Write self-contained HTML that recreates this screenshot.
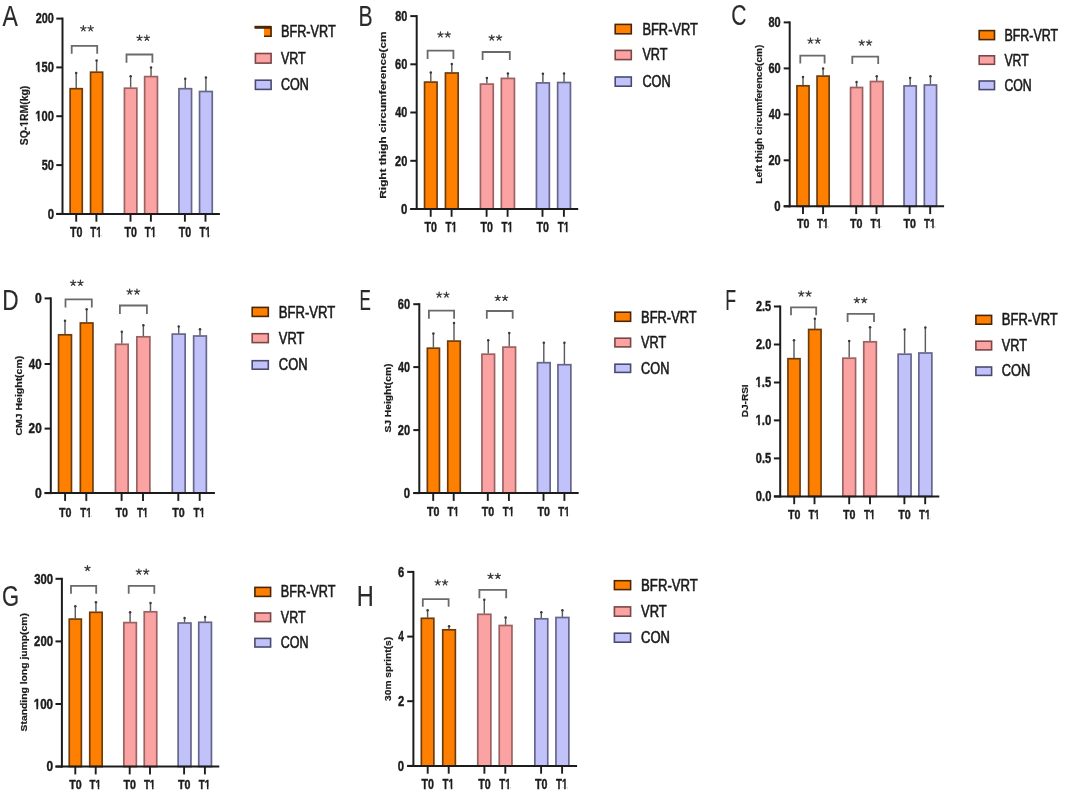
<!DOCTYPE html>
<html><head><meta charset="utf-8"><style>
html,body{margin:0;padding:0;background:#fff;width:1065px;height:799px;overflow:hidden}
svg{display:block;font-family:"Liberation Sans", sans-serif;will-change:transform;filter:blur(0.35px)}
</style></head><body>
<svg width="1065" height="799" viewBox="0 0 1065 799">
<defs><mask id="m0" maskUnits="userSpaceOnUse" x="-20" y="-27.89" width="63.26" height="55.77"><rect x="-20" y="-27.89" width="63.26" height="55.77" fill="#fff"/><rect x="-0.70" y="-2.09" width="3.86" height="3.49" fill="#000"/><rect x="5.37" y="-2.09" width="2.65" height="3.49" fill="#000"/></mask><mask id="m1" maskUnits="userSpaceOnUse" x="-20" y="-27.89" width="63.26" height="55.77"><rect x="-20" y="-27.89" width="63.26" height="55.77" fill="#fff"/><rect x="-0.70" y="-2.09" width="3.86" height="3.49" fill="#000"/><rect x="5.37" y="-2.09" width="2.65" height="3.49" fill="#000"/></mask><mask id="m2" maskUnits="userSpaceOnUse" x="-20" y="-27.89" width="56.27" height="55.77"><rect x="-20" y="-27.89" width="56.27" height="55.77" fill="#fff"/><rect x="7.82" y="-2.09" width="3.86" height="3.49" fill="#000"/><rect x="13.89" y="-2.09" width="2.65" height="3.49" fill="#000"/></mask><mask id="m3" maskUnits="userSpaceOnUse" x="-20" y="-21.16" width="100.54" height="42.32"><rect x="-20" y="-21.16" width="100.54" height="42.32" fill="#fff"/><rect x="18.28" y="-1.59" width="2.93" height="2.64" fill="#000"/><rect x="22.88" y="-1.59" width="2.01" height="2.64" fill="#000"/></mask><mask id="m4" maskUnits="userSpaceOnUse" x="-20" y="-25.63" width="54.96" height="51.27"><rect x="-20" y="-25.63" width="54.96" height="51.27" fill="#fff"/><rect x="7.19" y="-1.92" width="3.55" height="3.20" fill="#000"/><rect x="12.76" y="-1.92" width="2.44" height="3.20" fill="#000"/></mask><mask id="m5" maskUnits="userSpaceOnUse" x="-20" y="-27.32" width="55.94" height="54.65"><rect x="-20" y="-27.32" width="55.94" height="54.65" fill="#fff"/><rect x="7.66" y="-2.05" width="3.78" height="3.42" fill="#000"/><rect x="13.61" y="-2.05" width="2.60" height="3.42" fill="#000"/></mask><mask id="m6" maskUnits="userSpaceOnUse" x="-20" y="-25.92" width="55.12" height="51.83"><rect x="-20" y="-25.92" width="55.12" height="51.83" fill="#fff"/><rect x="7.27" y="-1.94" width="3.59" height="3.24" fill="#000"/><rect x="12.90" y="-1.94" width="2.46" height="3.24" fill="#000"/></mask><mask id="m7" maskUnits="userSpaceOnUse" x="-20" y="-27.89" width="59.38" height="55.77"><rect x="-20" y="-27.89" width="59.38" height="55.77" fill="#fff"/><rect x="-0.70" y="-2.09" width="3.86" height="3.49" fill="#000"/><rect x="5.37" y="-2.09" width="2.65" height="3.49" fill="#000"/></mask><mask id="m8" maskUnits="userSpaceOnUse" x="-20" y="-27.89" width="59.38" height="55.77"><rect x="-20" y="-27.89" width="59.38" height="55.77" fill="#fff"/><rect x="-0.70" y="-2.09" width="3.86" height="3.49" fill="#000"/><rect x="5.37" y="-2.09" width="2.65" height="3.49" fill="#000"/></mask><mask id="m9" maskUnits="userSpaceOnUse" x="-20" y="-26.76" width="55.61" height="53.52"><rect x="-20" y="-26.76" width="55.61" height="53.52" fill="#fff"/><rect x="7.50" y="-2.01" width="3.71" height="3.35" fill="#000"/><rect x="13.32" y="-2.01" width="2.54" height="3.35" fill="#000"/></mask></defs>
<rect width="1065" height="799" fill="#fff"/>
<g>
<text transform="translate(2.53,25.75) scale(0.7945,1)" font-size="28.986" font-weight="normal" fill="#2a2a2a" stroke="#2a2a2a" stroke-width="0.15">A</text>
<line x1="76.2" y1="88.1" x2="76.2" y2="73" stroke="#5c5c5c" stroke-width="1.45"/>
<circle cx="76.2" cy="73" r="1.25" fill="#3a3a3a"/>
<rect x="70.15" y="88.7" width="12.1" height="125.2" fill="#FF8000" stroke="#6e3c0c" stroke-width="1.7"/>
<line x1="96.6" y1="71.6" x2="96.6" y2="60.6" stroke="#5c5c5c" stroke-width="1.45"/>
<circle cx="96.6" cy="60.6" r="1.25" fill="#3a3a3a"/>
<rect x="90.55" y="72.2" width="12.1" height="141.7" fill="#FF8000" stroke="#6e3c0c" stroke-width="1.7"/>
<line x1="130.65" y1="87.6" x2="130.65" y2="76.2" stroke="#5c5c5c" stroke-width="1.45"/>
<circle cx="130.65" cy="76.2" r="1.25" fill="#3a3a3a"/>
<rect x="124.45" y="88.2" width="12.4" height="125.7" fill="#FBA3A3" stroke="#9a6262" stroke-width="1.7"/>
<line x1="151.05" y1="76" x2="151.05" y2="67.4" stroke="#5c5c5c" stroke-width="1.45"/>
<circle cx="151.05" cy="67.4" r="1.25" fill="#3a3a3a"/>
<rect x="144.65" y="76.6" width="12.8" height="137.3" fill="#FBA3A3" stroke="#9a6262" stroke-width="1.7"/>
<line x1="185.25" y1="88.1" x2="185.25" y2="78.8" stroke="#5c5c5c" stroke-width="1.45"/>
<circle cx="185.25" cy="78.8" r="1.25" fill="#3a3a3a"/>
<rect x="178.95" y="88.7" width="12.6" height="125.2" fill="#C2C2FB" stroke="#66668a" stroke-width="1.7"/>
<line x1="205.9" y1="90.9" x2="205.9" y2="77.4" stroke="#5c5c5c" stroke-width="1.45"/>
<circle cx="205.9" cy="77.4" r="1.25" fill="#3a3a3a"/>
<rect x="199.55" y="91.5" width="12.7" height="122.4" fill="#C2C2FB" stroke="#66668a" stroke-width="1.7"/>
<line x1="62.5" y1="17.6" x2="62.5" y2="214.9" stroke="#1c1c1c" stroke-width="2"/>
<line x1="56.3" y1="213.9" x2="219.9" y2="213.9" stroke="#1c1c1c" stroke-width="2"/>
<line x1="56.3" y1="18.6" x2="62.5" y2="18.6" stroke="#1c1c1c" stroke-width="2"/>
<text transform="translate(35.72,23.46) scale(0.7848,1)" font-size="13.944" font-weight="bold" fill="#1c1c1c" stroke="#1c1c1c" stroke-width="0.4">200</text>
<line x1="56.3" y1="67.4" x2="62.5" y2="67.4" stroke="#1c1c1c" stroke-width="2"/>
<text transform="translate(35.37,72.26) scale(0.7999,1)" font-size="13.944" font-weight="bold" fill="#1c1c1c" stroke="#1c1c1c" stroke-width="0.4" mask="url(#m0)">150</text>
<line x1="56.3" y1="116.2" x2="62.5" y2="116.2" stroke="#1c1c1c" stroke-width="2"/>
<text transform="translate(35.37,121.06) scale(0.7999,1)" font-size="13.944" font-weight="bold" fill="#1c1c1c" stroke="#1c1c1c" stroke-width="0.4" mask="url(#m1)">100</text>
<line x1="56.3" y1="165.1" x2="62.5" y2="165.1" stroke="#1c1c1c" stroke-width="2"/>
<text transform="translate(41.77,169.96) scale(0.7861,1)" font-size="13.944" font-weight="bold" fill="#1c1c1c" stroke="#1c1c1c" stroke-width="0.4">50</text>
<line x1="56.3" y1="213.9" x2="62.5" y2="213.9" stroke="#1c1c1c" stroke-width="2"/>
<text transform="translate(47.65,218.76) scale(0.8153,1)" font-size="13.944" font-weight="bold" fill="#1c1c1c" stroke="#1c1c1c" stroke-width="0.4">0</text>
<line x1="76.2" y1="213.9" x2="76.2" y2="221.7" stroke="#1c1c1c" stroke-width="1.9"/>
<text transform="translate(70.09,237.26) scale(0.7654,1)" font-size="13.944" font-weight="bold" fill="#1c1c1c" stroke="#1c1c1c" stroke-width="0.4">T0</text>
<line x1="96.4" y1="213.9" x2="96.4" y2="221.7" stroke="#1c1c1c" stroke-width="1.9"/>
<text transform="translate(90.3,237.26) scale(0.6981,1)" font-size="13.944" font-weight="bold" fill="#1c1c1c" stroke="#1c1c1c" stroke-width="0.4" mask="url(#m2)">T1</text>
<line x1="130.5" y1="213.9" x2="130.5" y2="221.7" stroke="#1c1c1c" stroke-width="1.9"/>
<text transform="translate(124.39,237.26) scale(0.7654,1)" font-size="13.944" font-weight="bold" fill="#1c1c1c" stroke="#1c1c1c" stroke-width="0.4">T0</text>
<line x1="150.9" y1="213.9" x2="150.9" y2="221.7" stroke="#1c1c1c" stroke-width="1.9"/>
<text transform="translate(144.8,237.26) scale(0.6981,1)" font-size="13.944" font-weight="bold" fill="#1c1c1c" stroke="#1c1c1c" stroke-width="0.4" mask="url(#m2)">T1</text>
<line x1="184.9" y1="213.9" x2="184.9" y2="221.7" stroke="#1c1c1c" stroke-width="1.9"/>
<text transform="translate(178.79,237.26) scale(0.7654,1)" font-size="13.944" font-weight="bold" fill="#1c1c1c" stroke="#1c1c1c" stroke-width="0.4">T0</text>
<line x1="205.5" y1="213.9" x2="205.5" y2="221.7" stroke="#1c1c1c" stroke-width="1.9"/>
<text transform="translate(199.4,237.26) scale(0.6981,1)" font-size="13.944" font-weight="bold" fill="#1c1c1c" stroke="#1c1c1c" stroke-width="0.4" mask="url(#m2)">T1</text>
<polyline points="71.7,53.8 71.7,45.9 97.2,45.9 97.2,53.8" fill="none" stroke="#6a6a6a" stroke-width="1.8"/>
<polyline points="126.5,62.8 126.5,54.5 152.4,54.5 152.4,62.8" fill="none" stroke="#6a6a6a" stroke-width="1.8"/>
<path d="M83.35,28.50L83.35,25.70M83.35,28.50L86.01,27.63M83.35,28.50L85.00,30.77M83.35,28.50L81.70,30.77M83.35,28.50L80.69,27.63" stroke="#3c3c3c" stroke-width="1.25" stroke-linecap="round" fill="none"/>
<path d="M90.65,28.50L90.65,25.70M90.65,28.50L93.31,27.63M90.65,28.50L92.30,30.77M90.65,28.50L89.00,30.77M90.65,28.50L87.99,27.63" stroke="#3c3c3c" stroke-width="1.25" stroke-linecap="round" fill="none"/>
<path d="M139.55,38.00L139.55,35.20M139.55,38.00L142.21,37.13M139.55,38.00L141.20,40.27M139.55,38.00L137.90,40.27M139.55,38.00L136.89,37.13" stroke="#3c3c3c" stroke-width="1.25" stroke-linecap="round" fill="none"/>
<path d="M146.85,38.00L146.85,35.20M146.85,38.00L149.51,37.13M146.85,38.00L148.50,40.27M146.85,38.00L145.20,40.27M146.85,38.00L144.19,37.13" stroke="#3c3c3c" stroke-width="1.25" stroke-linecap="round" fill="none"/>
<text transform="translate(28.3,145.21) rotate(-90) scale(0.9846,1)" font-size="10.580" font-weight="bold" fill="#1c1c1c" stroke="#1c1c1c" stroke-width="0.2" mask="url(#m3)">SQ-1RM(kg)</text>
<rect x="264" y="26.5" width="7.8" height="10.5" fill="#FF8000"/>
<path d="M254.6,27.3H271.8M271,26V37M264,36.2H271.8" stroke="#4a2606" stroke-width="1.6" fill="none"/>
<path d="M254.6,27.3H271" stroke="#4a2606" stroke-width="3" fill="none"/>
<text transform="translate(280.93,37.45) scale(0.7834,1)" font-size="16.232" font-weight="normal" fill="#1a1a1a" stroke="#1a1a1a" stroke-width="0.6">BFR-VRT</text>
<rect x="255.4" y="53.5" width="15.7" height="9.6" fill="#FBA3A3" stroke="#7a4646" stroke-width="1.6"/>
<text transform="translate(280.92,64.15) scale(0.7716,1)" font-size="16.232" font-weight="normal" fill="#1a1a1a" stroke="#1a1a1a" stroke-width="0.6">VRT</text>
<rect x="255.4" y="80.2" width="15.7" height="9.2" fill="#C2C2FB" stroke="#4a4a70" stroke-width="1.6"/>
<text transform="translate(280.94,90.49) scale(0.7954,1)" font-size="15.775" font-weight="normal" fill="#1a1a1a" stroke="#1a1a1a" stroke-width="0.6">CON</text>
</g>
<g>
<text transform="translate(358.46,25.75) scale(0.7251,1)" font-size="29.130" font-weight="normal" fill="#2a2a2a" stroke="#2a2a2a" stroke-width="0.15">B</text>
<line x1="430.8" y1="81.5" x2="430.8" y2="72.4" stroke="#5c5c5c" stroke-width="1.45"/>
<circle cx="430.8" cy="72.4" r="1.25" fill="#3a3a3a"/>
<rect x="424.55" y="82.1" width="12.5" height="126.9" fill="#FF8000" stroke="#6e3c0c" stroke-width="1.7"/>
<line x1="451.8" y1="72.4" x2="451.8" y2="64.1" stroke="#5c5c5c" stroke-width="1.45"/>
<circle cx="451.8" cy="64.1" r="1.25" fill="#3a3a3a"/>
<rect x="445.45" y="73" width="12.7" height="136" fill="#FF8000" stroke="#6e3c0c" stroke-width="1.7"/>
<line x1="486.85" y1="83.5" x2="486.85" y2="78.1" stroke="#5c5c5c" stroke-width="1.45"/>
<circle cx="486.85" cy="78.1" r="1.25" fill="#3a3a3a"/>
<rect x="480.45" y="84.1" width="12.8" height="124.9" fill="#FBA3A3" stroke="#9a6262" stroke-width="1.7"/>
<line x1="507.9" y1="77.8" x2="507.9" y2="73.4" stroke="#5c5c5c" stroke-width="1.45"/>
<circle cx="507.9" cy="73.4" r="1.25" fill="#3a3a3a"/>
<rect x="501.35" y="78.4" width="13.1" height="130.6" fill="#FBA3A3" stroke="#9a6262" stroke-width="1.7"/>
<line x1="542.9" y1="82.3" x2="542.9" y2="73.7" stroke="#5c5c5c" stroke-width="1.45"/>
<circle cx="542.9" cy="73.7" r="1.25" fill="#3a3a3a"/>
<rect x="536.45" y="82.9" width="12.9" height="126.1" fill="#C2C2FB" stroke="#66668a" stroke-width="1.7"/>
<line x1="564.05" y1="81.9" x2="564.05" y2="73.4" stroke="#5c5c5c" stroke-width="1.45"/>
<circle cx="564.05" cy="73.4" r="1.25" fill="#3a3a3a"/>
<rect x="557.65" y="82.5" width="12.8" height="126.5" fill="#C2C2FB" stroke="#66668a" stroke-width="1.7"/>
<line x1="416.7" y1="15.1" x2="416.7" y2="210" stroke="#1c1c1c" stroke-width="2"/>
<line x1="410.3" y1="209" x2="578.2" y2="209" stroke="#1c1c1c" stroke-width="2"/>
<line x1="410.3" y1="16.1" x2="416.7" y2="16.1" stroke="#1c1c1c" stroke-width="2"/>
<text transform="translate(395.17,20.96) scale(0.7861,1)" font-size="13.944" font-weight="bold" fill="#1c1c1c" stroke="#1c1c1c" stroke-width="0.4">80</text>
<line x1="410.3" y1="64.3" x2="416.7" y2="64.3" stroke="#1c1c1c" stroke-width="2"/>
<text transform="translate(395.11,69.16) scale(0.7899,1)" font-size="13.944" font-weight="bold" fill="#1c1c1c" stroke="#1c1c1c" stroke-width="0.4">60</text>
<line x1="410.3" y1="112.5" x2="416.7" y2="112.5" stroke="#1c1c1c" stroke-width="2"/>
<text transform="translate(395.34,117.36) scale(0.7750,1)" font-size="13.944" font-weight="bold" fill="#1c1c1c" stroke="#1c1c1c" stroke-width="0.4">40</text>
<line x1="410.3" y1="160.8" x2="416.7" y2="160.8" stroke="#1c1c1c" stroke-width="2"/>
<text transform="translate(395.11,165.66) scale(0.7899,1)" font-size="13.944" font-weight="bold" fill="#1c1c1c" stroke="#1c1c1c" stroke-width="0.4">20</text>
<line x1="410.3" y1="209" x2="416.7" y2="209" stroke="#1c1c1c" stroke-width="2"/>
<text transform="translate(401.05,213.86) scale(0.8153,1)" font-size="13.944" font-weight="bold" fill="#1c1c1c" stroke="#1c1c1c" stroke-width="0.4">0</text>
<line x1="430.7" y1="209" x2="430.7" y2="216.8" stroke="#1c1c1c" stroke-width="1.9"/>
<text transform="translate(424.59,232.26) scale(0.7654,1)" font-size="13.944" font-weight="bold" fill="#1c1c1c" stroke="#1c1c1c" stroke-width="0.4">T0</text>
<line x1="451.6" y1="209" x2="451.6" y2="216.8" stroke="#1c1c1c" stroke-width="1.9"/>
<text transform="translate(445.5,232.26) scale(0.6981,1)" font-size="13.944" font-weight="bold" fill="#1c1c1c" stroke="#1c1c1c" stroke-width="0.4" mask="url(#m2)">T1</text>
<line x1="486.6" y1="209" x2="486.6" y2="216.8" stroke="#1c1c1c" stroke-width="1.9"/>
<text transform="translate(480.49,232.26) scale(0.7654,1)" font-size="13.944" font-weight="bold" fill="#1c1c1c" stroke="#1c1c1c" stroke-width="0.4">T0</text>
<line x1="507.6" y1="209" x2="507.6" y2="216.8" stroke="#1c1c1c" stroke-width="1.9"/>
<text transform="translate(501.5,232.26) scale(0.6981,1)" font-size="13.944" font-weight="bold" fill="#1c1c1c" stroke="#1c1c1c" stroke-width="0.4" mask="url(#m2)">T1</text>
<line x1="542.5" y1="209" x2="542.5" y2="216.8" stroke="#1c1c1c" stroke-width="1.9"/>
<text transform="translate(536.39,232.26) scale(0.7654,1)" font-size="13.944" font-weight="bold" fill="#1c1c1c" stroke="#1c1c1c" stroke-width="0.4">T0</text>
<line x1="563.9" y1="209" x2="563.9" y2="216.8" stroke="#1c1c1c" stroke-width="1.9"/>
<text transform="translate(557.8,232.26) scale(0.6981,1)" font-size="13.944" font-weight="bold" fill="#1c1c1c" stroke="#1c1c1c" stroke-width="0.4" mask="url(#m2)">T1</text>
<polyline points="427.6,59.1 427.6,50.7 453.4,50.7 453.4,59.1" fill="none" stroke="#6a6a6a" stroke-width="1.8"/>
<polyline points="482.6,59.9 482.6,52 509.8,52 509.8,59.9" fill="none" stroke="#6a6a6a" stroke-width="1.8"/>
<path d="M440.45,34.70L440.45,31.90M440.45,34.70L443.11,33.83M440.45,34.70L442.10,36.97M440.45,34.70L438.80,36.97M440.45,34.70L437.79,33.83" stroke="#3c3c3c" stroke-width="1.25" stroke-linecap="round" fill="none"/>
<path d="M447.75,34.70L447.75,31.90M447.75,34.70L450.41,33.83M447.75,34.70L449.40,36.97M447.75,34.70L446.10,36.97M447.75,34.70L445.09,33.83" stroke="#3c3c3c" stroke-width="1.25" stroke-linecap="round" fill="none"/>
<path d="M491.75,37.80L491.75,35.00M491.75,37.80L494.41,36.93M491.75,37.80L493.40,40.07M491.75,37.80L490.10,40.07M491.75,37.80L489.09,36.93" stroke="#3c3c3c" stroke-width="1.25" stroke-linecap="round" fill="none"/>
<path d="M499.05,37.80L499.05,35.00M499.05,37.80L501.71,36.93M499.05,37.80L500.70,40.07M499.05,37.80L497.40,40.07M499.05,37.80L496.39,36.93" stroke="#3c3c3c" stroke-width="1.25" stroke-linecap="round" fill="none"/>
<text transform="translate(386.4,198.67) rotate(-90) scale(1.2551,1)" font-size="9.420" font-weight="bold" fill="#1c1c1c" stroke="#1c1c1c" stroke-width="0.2">Right thigh circumference(cm</text>
<rect x="615.2" y="24.4" width="16.1" height="9.4" fill="#FF8000" stroke="#4a2606" stroke-width="1.6"/>
<text transform="translate(642.42,34.55) scale(0.7937,1)" font-size="16.232" font-weight="normal" fill="#1a1a1a" stroke="#1a1a1a" stroke-width="0.6">BFR-VRT</text>
<rect x="615.2" y="50.4" width="16.1" height="9.2" fill="#FBA3A3" stroke="#7a4646" stroke-width="1.6"/>
<text transform="translate(642.41,60.45) scale(0.7818,1)" font-size="16.232" font-weight="normal" fill="#1a1a1a" stroke="#1a1a1a" stroke-width="0.6">VRT</text>
<rect x="615.2" y="77" width="16.1" height="9.2" fill="#C2C2FB" stroke="#4a4a70" stroke-width="1.6"/>
<text transform="translate(642.42,86.89) scale(0.8060,1)" font-size="15.775" font-weight="normal" fill="#1a1a1a" stroke="#1a1a1a" stroke-width="0.6">CON</text>
</g>
<g>
<text transform="translate(731.19,25.46) scale(0.7312,1)" font-size="28.873" font-weight="normal" fill="#2a2a2a" stroke="#2a2a2a" stroke-width="0.15">C</text>
<line x1="803" y1="85.2" x2="803" y2="77" stroke="#5c5c5c" stroke-width="1.45"/>
<circle cx="803" cy="77" r="1.25" fill="#3a3a3a"/>
<rect x="796.95" y="85.8" width="12.1" height="120.5" fill="#FF8000" stroke="#6e3c0c" stroke-width="1.7"/>
<line x1="823.1" y1="75.5" x2="823.1" y2="68.4" stroke="#5c5c5c" stroke-width="1.45"/>
<circle cx="823.1" cy="68.4" r="1.25" fill="#3a3a3a"/>
<rect x="817.05" y="76.1" width="12.1" height="130.2" fill="#FF8000" stroke="#6e3c0c" stroke-width="1.7"/>
<line x1="856.55" y1="86.9" x2="856.55" y2="81.9" stroke="#5c5c5c" stroke-width="1.45"/>
<circle cx="856.55" cy="81.9" r="1.25" fill="#3a3a3a"/>
<rect x="850.55" y="87.5" width="12" height="118.8" fill="#FBA3A3" stroke="#9a6262" stroke-width="1.7"/>
<line x1="876.75" y1="80.9" x2="876.75" y2="76.3" stroke="#5c5c5c" stroke-width="1.45"/>
<circle cx="876.75" cy="76.3" r="1.25" fill="#3a3a3a"/>
<rect x="870.45" y="81.5" width="12.6" height="124.8" fill="#FBA3A3" stroke="#9a6262" stroke-width="1.7"/>
<line x1="910.15" y1="85.3" x2="910.15" y2="77.9" stroke="#5c5c5c" stroke-width="1.45"/>
<circle cx="910.15" cy="77.9" r="1.25" fill="#3a3a3a"/>
<rect x="904.05" y="85.9" width="12.2" height="120.4" fill="#C2C2FB" stroke="#66668a" stroke-width="1.7"/>
<line x1="930.45" y1="84.4" x2="930.45" y2="76.3" stroke="#5c5c5c" stroke-width="1.45"/>
<circle cx="930.45" cy="76.3" r="1.25" fill="#3a3a3a"/>
<rect x="924.35" y="85" width="12.2" height="121.3" fill="#C2C2FB" stroke="#66668a" stroke-width="1.7"/>
<line x1="789.7" y1="21.4" x2="789.7" y2="207.3" stroke="#1c1c1c" stroke-width="2"/>
<line x1="783.7" y1="206.3" x2="944.1" y2="206.3" stroke="#1c1c1c" stroke-width="2"/>
<line x1="783.7" y1="22.4" x2="789.7" y2="22.4" stroke="#1c1c1c" stroke-width="2"/>
<text transform="translate(768.47,27.26) scale(0.7861,1)" font-size="13.944" font-weight="bold" fill="#1c1c1c" stroke="#1c1c1c" stroke-width="0.4">80</text>
<line x1="783.7" y1="68.4" x2="789.7" y2="68.4" stroke="#1c1c1c" stroke-width="2"/>
<text transform="translate(768.41,73.26) scale(0.7899,1)" font-size="13.944" font-weight="bold" fill="#1c1c1c" stroke="#1c1c1c" stroke-width="0.4">60</text>
<line x1="783.7" y1="114.4" x2="789.7" y2="114.4" stroke="#1c1c1c" stroke-width="2"/>
<text transform="translate(768.64,119.26) scale(0.7750,1)" font-size="13.944" font-weight="bold" fill="#1c1c1c" stroke="#1c1c1c" stroke-width="0.4">40</text>
<line x1="783.7" y1="160.3" x2="789.7" y2="160.3" stroke="#1c1c1c" stroke-width="2"/>
<text transform="translate(768.41,165.16) scale(0.7899,1)" font-size="13.944" font-weight="bold" fill="#1c1c1c" stroke="#1c1c1c" stroke-width="0.4">20</text>
<line x1="783.7" y1="206.3" x2="789.7" y2="206.3" stroke="#1c1c1c" stroke-width="2"/>
<text transform="translate(774.35,211.16) scale(0.8153,1)" font-size="13.944" font-weight="bold" fill="#1c1c1c" stroke="#1c1c1c" stroke-width="0.4">0</text>
<line x1="803" y1="206.3" x2="803" y2="214.1" stroke="#1c1c1c" stroke-width="1.9"/>
<text transform="translate(796.89,228.37) scale(0.8327,1)" font-size="12.817" font-weight="bold" fill="#1c1c1c" stroke="#1c1c1c" stroke-width="0.4">T0</text>
<line x1="823.1" y1="206.3" x2="823.1" y2="214.1" stroke="#1c1c1c" stroke-width="1.9"/>
<text transform="translate(817,228.37) scale(0.7595,1)" font-size="12.817" font-weight="bold" fill="#1c1c1c" stroke="#1c1c1c" stroke-width="0.4" mask="url(#m4)">T1</text>
<line x1="856.2" y1="206.3" x2="856.2" y2="214.1" stroke="#1c1c1c" stroke-width="1.9"/>
<text transform="translate(850.09,228.37) scale(0.8327,1)" font-size="12.817" font-weight="bold" fill="#1c1c1c" stroke="#1c1c1c" stroke-width="0.4">T0</text>
<line x1="876.5" y1="206.3" x2="876.5" y2="214.1" stroke="#1c1c1c" stroke-width="1.9"/>
<text transform="translate(870.4,228.37) scale(0.7595,1)" font-size="12.817" font-weight="bold" fill="#1c1c1c" stroke="#1c1c1c" stroke-width="0.4" mask="url(#m4)">T1</text>
<line x1="909.6" y1="206.3" x2="909.6" y2="214.1" stroke="#1c1c1c" stroke-width="1.9"/>
<text transform="translate(903.49,228.37) scale(0.8327,1)" font-size="12.817" font-weight="bold" fill="#1c1c1c" stroke="#1c1c1c" stroke-width="0.4">T0</text>
<line x1="930.2" y1="206.3" x2="930.2" y2="214.1" stroke="#1c1c1c" stroke-width="1.9"/>
<text transform="translate(924.1,228.37) scale(0.7595,1)" font-size="12.817" font-weight="bold" fill="#1c1c1c" stroke="#1c1c1c" stroke-width="0.4" mask="url(#m4)">T1</text>
<polyline points="800.3,63.4 800.3,55.7 824.6,55.7 824.6,63.4" fill="none" stroke="#6a6a6a" stroke-width="1.8"/>
<polyline points="852.3,64.1 852.3,56.7 878.2,56.7 878.2,64.1" fill="none" stroke="#6a6a6a" stroke-width="1.8"/>
<path d="M810.45,40.90L810.45,38.10M810.45,40.90L813.11,40.03M810.45,40.90L812.10,43.17M810.45,40.90L808.80,43.17M810.45,40.90L807.79,40.03" stroke="#3c3c3c" stroke-width="1.25" stroke-linecap="round" fill="none"/>
<path d="M817.75,40.90L817.75,38.10M817.75,40.90L820.41,40.03M817.75,40.90L819.40,43.17M817.75,40.90L816.10,43.17M817.75,40.90L815.09,40.03" stroke="#3c3c3c" stroke-width="1.25" stroke-linecap="round" fill="none"/>
<path d="M861.75,42.80L861.75,40.00M861.75,42.80L864.41,41.93M861.75,42.80L863.40,45.07M861.75,42.80L860.10,45.07M861.75,42.80L859.09,41.93" stroke="#3c3c3c" stroke-width="1.25" stroke-linecap="round" fill="none"/>
<path d="M869.05,42.80L869.05,40.00M869.05,42.80L871.71,41.93M869.05,42.80L870.70,45.07M869.05,42.80L867.40,45.07M869.05,42.80L866.39,41.93" stroke="#3c3c3c" stroke-width="1.25" stroke-linecap="round" fill="none"/>
<text transform="translate(762.3,183.76) rotate(-90) scale(1.0900,1)" font-size="9.275" font-weight="bold" fill="#1c1c1c" stroke="#1c1c1c" stroke-width="0.2">Left thigh circumference(cm)</text>
<rect x="979.2" y="30.6" width="15.3" height="9" fill="#FF8000" stroke="#4a2606" stroke-width="1.6"/>
<text transform="translate(1004.45,40.95) scale(0.7673,1)" font-size="16.232" font-weight="normal" fill="#1a1a1a" stroke="#1a1a1a" stroke-width="0.6">BFR-VRT</text>
<rect x="979.2" y="55.8" width="15.3" height="8.5" fill="#FBA3A3" stroke="#7a4646" stroke-width="1.6"/>
<text transform="translate(1004.44,65.9) scale(0.7555,1)" font-size="16.232" font-weight="normal" fill="#1a1a1a" stroke="#1a1a1a" stroke-width="0.6">VRT</text>
<rect x="979.2" y="81" width="15.3" height="8.6" fill="#C2C2FB" stroke="#4a4a70" stroke-width="1.6"/>
<text transform="translate(1004.46,90.99) scale(0.7789,1)" font-size="15.775" font-weight="normal" fill="#1a1a1a" stroke="#1a1a1a" stroke-width="0.6">CON</text>
</g>
<g>
<text transform="translate(2.23,310.25) scale(0.7828,1)" font-size="28.986" font-weight="normal" fill="#2a2a2a" stroke="#2a2a2a" stroke-width="0.15">D</text>
<line x1="65" y1="334.2" x2="65" y2="320.8" stroke="#5c5c5c" stroke-width="1.45"/>
<circle cx="65" cy="320.8" r="1.25" fill="#3a3a3a"/>
<rect x="58.55" y="334.8" width="12.9" height="158.3" fill="#FF8000" stroke="#6e3c0c" stroke-width="1.7"/>
<line x1="86.65" y1="322.4" x2="86.65" y2="309.3" stroke="#5c5c5c" stroke-width="1.45"/>
<circle cx="86.65" cy="309.3" r="1.25" fill="#3a3a3a"/>
<rect x="80.35" y="323" width="12.6" height="170.1" fill="#FF8000" stroke="#6e3c0c" stroke-width="1.7"/>
<line x1="121.8" y1="343.7" x2="121.8" y2="331.7" stroke="#5c5c5c" stroke-width="1.45"/>
<circle cx="121.8" cy="331.7" r="1.25" fill="#3a3a3a"/>
<rect x="115.45" y="344.3" width="12.7" height="148.8" fill="#FBA3A3" stroke="#9a6262" stroke-width="1.7"/>
<line x1="143.35" y1="336.2" x2="143.35" y2="325.3" stroke="#5c5c5c" stroke-width="1.45"/>
<circle cx="143.35" cy="325.3" r="1.25" fill="#3a3a3a"/>
<rect x="136.85" y="336.8" width="13" height="156.3" fill="#FBA3A3" stroke="#9a6262" stroke-width="1.7"/>
<line x1="178.7" y1="333.5" x2="178.7" y2="326.5" stroke="#5c5c5c" stroke-width="1.45"/>
<circle cx="178.7" cy="326.5" r="1.25" fill="#3a3a3a"/>
<rect x="172.25" y="334.1" width="12.9" height="159" fill="#C2C2FB" stroke="#66668a" stroke-width="1.7"/>
<line x1="200" y1="335.4" x2="200" y2="329.3" stroke="#5c5c5c" stroke-width="1.45"/>
<circle cx="200" cy="329.3" r="1.25" fill="#3a3a3a"/>
<rect x="193.65" y="336" width="12.7" height="157.1" fill="#C2C2FB" stroke="#66668a" stroke-width="1.7"/>
<line x1="50.8" y1="297.4" x2="50.8" y2="494.1" stroke="#1c1c1c" stroke-width="2"/>
<line x1="44.6" y1="493.1" x2="214.9" y2="493.1" stroke="#1c1c1c" stroke-width="2"/>
<line x1="44.6" y1="298.4" x2="50.8" y2="298.4" stroke="#1c1c1c" stroke-width="2"/>
<text transform="translate(34.91,303.26) scale(0.8757,1)" font-size="13.944" font-weight="bold" fill="#1c1c1c" stroke="#1c1c1c" stroke-width="0.4">0</text>
<line x1="44.6" y1="364" x2="50.8" y2="364" stroke="#1c1c1c" stroke-width="2"/>
<text transform="translate(28.83,368.86) scale(0.8293,1)" font-size="13.944" font-weight="bold" fill="#1c1c1c" stroke="#1c1c1c" stroke-width="0.4">40</text>
<line x1="44.6" y1="428.6" x2="50.8" y2="428.6" stroke="#1c1c1c" stroke-width="2"/>
<text transform="translate(28.59,433.46) scale(0.8454,1)" font-size="13.944" font-weight="bold" fill="#1c1c1c" stroke="#1c1c1c" stroke-width="0.4">20</text>
<line x1="44.6" y1="493.1" x2="50.8" y2="493.1" stroke="#1c1c1c" stroke-width="2"/>
<text transform="translate(34.91,497.96) scale(0.8757,1)" font-size="13.944" font-weight="bold" fill="#1c1c1c" stroke="#1c1c1c" stroke-width="0.4">0</text>
<line x1="65.1" y1="493.1" x2="65.1" y2="500.9" stroke="#1c1c1c" stroke-width="1.9"/>
<text transform="translate(58.99,516.56) scale(0.7812,1)" font-size="13.662" font-weight="bold" fill="#1c1c1c" stroke="#1c1c1c" stroke-width="0.4">T0</text>
<line x1="86.3" y1="493.1" x2="86.3" y2="500.9" stroke="#1c1c1c" stroke-width="1.9"/>
<text transform="translate(80.2,516.56) scale(0.7125,1)" font-size="13.662" font-weight="bold" fill="#1c1c1c" stroke="#1c1c1c" stroke-width="0.4" mask="url(#m5)">T1</text>
<line x1="121.6" y1="493.1" x2="121.6" y2="500.9" stroke="#1c1c1c" stroke-width="1.9"/>
<text transform="translate(115.49,516.56) scale(0.7812,1)" font-size="13.662" font-weight="bold" fill="#1c1c1c" stroke="#1c1c1c" stroke-width="0.4">T0</text>
<line x1="143" y1="493.1" x2="143" y2="500.9" stroke="#1c1c1c" stroke-width="1.9"/>
<text transform="translate(136.9,516.56) scale(0.7125,1)" font-size="13.662" font-weight="bold" fill="#1c1c1c" stroke="#1c1c1c" stroke-width="0.4" mask="url(#m5)">T1</text>
<line x1="178.3" y1="493.1" x2="178.3" y2="500.9" stroke="#1c1c1c" stroke-width="1.9"/>
<text transform="translate(172.19,516.56) scale(0.7812,1)" font-size="13.662" font-weight="bold" fill="#1c1c1c" stroke="#1c1c1c" stroke-width="0.4">T0</text>
<line x1="199.7" y1="493.1" x2="199.7" y2="500.9" stroke="#1c1c1c" stroke-width="1.9"/>
<text transform="translate(193.6,516.56) scale(0.7125,1)" font-size="13.662" font-weight="bold" fill="#1c1c1c" stroke="#1c1c1c" stroke-width="0.4" mask="url(#m5)">T1</text>
<polyline points="65.5,307.5 65.5,299.3 91.8,299.3 91.8,307.5" fill="none" stroke="#6a6a6a" stroke-width="1.8"/>
<polyline points="119.9,313.9 119.9,305.5 146.9,305.5 146.9,313.9" fill="none" stroke="#6a6a6a" stroke-width="1.8"/>
<path d="M73.15,283.00L73.15,280.20M73.15,283.00L75.81,282.13M73.15,283.00L74.80,285.27M73.15,283.00L71.50,285.27M73.15,283.00L70.49,282.13" stroke="#3c3c3c" stroke-width="1.25" stroke-linecap="round" fill="none"/>
<path d="M80.45,283.00L80.45,280.20M80.45,283.00L83.11,282.13M80.45,283.00L82.10,285.27M80.45,283.00L78.80,285.27M80.45,283.00L77.79,282.13" stroke="#3c3c3c" stroke-width="1.25" stroke-linecap="round" fill="none"/>
<path d="M129.65,291.80L129.65,289.00M129.65,291.80L132.31,290.93M129.65,291.80L131.30,294.07M129.65,291.80L128.00,294.07M129.65,291.80L126.99,290.93" stroke="#3c3c3c" stroke-width="1.25" stroke-linecap="round" fill="none"/>
<path d="M136.95,291.80L136.95,289.00M136.95,291.80L139.61,290.93M136.95,291.80L138.60,294.07M136.95,291.80L135.30,294.07M136.95,291.80L134.29,290.93" stroke="#3c3c3c" stroke-width="1.25" stroke-linecap="round" fill="none"/>
<text transform="translate(21.7,435.62) rotate(-90) scale(1.1158,1)" font-size="9.420" font-weight="bold" fill="#1c1c1c" stroke="#1c1c1c" stroke-width="0.2">CMJ Height(cm)</text>
<rect x="252.2" y="307.4" width="16.1" height="9" fill="#FF8000" stroke="#4a2606" stroke-width="1.6"/>
<text transform="translate(278.8,317.5) scale(0.8068,1)" font-size="16.232" font-weight="normal" fill="#1a1a1a" stroke="#1a1a1a" stroke-width="0.6">BFR-VRT</text>
<rect x="252.2" y="333.7" width="16.1" height="8.9" fill="#FBA3A3" stroke="#7a4646" stroke-width="1.6"/>
<text transform="translate(278.79,343.75) scale(0.7950,1)" font-size="16.232" font-weight="normal" fill="#1a1a1a" stroke="#1a1a1a" stroke-width="0.6">VRT</text>
<rect x="252.2" y="360.7" width="16.1" height="8.5" fill="#C2C2FB" stroke="#4a4a70" stroke-width="1.6"/>
<text transform="translate(278.81,370.39) scale(0.8195,1)" font-size="15.775" font-weight="normal" fill="#1a1a1a" stroke="#1a1a1a" stroke-width="0.6">CON</text>
</g>
<g>
<text transform="translate(359.58,310.05) scale(0.5887,1)" font-size="28.986" font-weight="normal" fill="#2a2a2a" stroke="#2a2a2a" stroke-width="0.15">E</text>
<line x1="433.4" y1="347.6" x2="433.4" y2="333.4" stroke="#5c5c5c" stroke-width="1.45"/>
<circle cx="433.4" cy="333.4" r="1.25" fill="#3a3a3a"/>
<rect x="427.35" y="348.2" width="12.1" height="144.9" fill="#FF8000" stroke="#6e3c0c" stroke-width="1.7"/>
<line x1="454" y1="340.5" x2="454" y2="323" stroke="#5c5c5c" stroke-width="1.45"/>
<circle cx="454" cy="323" r="1.25" fill="#3a3a3a"/>
<rect x="447.75" y="341.1" width="12.5" height="152" fill="#FF8000" stroke="#6e3c0c" stroke-width="1.7"/>
<line x1="488.25" y1="353.6" x2="488.25" y2="340.3" stroke="#5c5c5c" stroke-width="1.45"/>
<circle cx="488.25" cy="340.3" r="1.25" fill="#3a3a3a"/>
<rect x="481.95" y="354.2" width="12.6" height="138.9" fill="#FBA3A3" stroke="#9a6262" stroke-width="1.7"/>
<line x1="509.25" y1="346.5" x2="509.25" y2="333.1" stroke="#5c5c5c" stroke-width="1.45"/>
<circle cx="509.25" cy="333.1" r="1.25" fill="#3a3a3a"/>
<rect x="502.95" y="347.1" width="12.6" height="146" fill="#FBA3A3" stroke="#9a6262" stroke-width="1.7"/>
<line x1="543.8" y1="362.1" x2="543.8" y2="342.7" stroke="#5c5c5c" stroke-width="1.45"/>
<circle cx="543.8" cy="342.7" r="1.25" fill="#3a3a3a"/>
<rect x="537.45" y="362.7" width="12.7" height="130.4" fill="#C2C2FB" stroke="#66668a" stroke-width="1.7"/>
<line x1="564.4" y1="364.1" x2="564.4" y2="342.7" stroke="#5c5c5c" stroke-width="1.45"/>
<circle cx="564.4" cy="342.7" r="1.25" fill="#3a3a3a"/>
<rect x="557.95" y="364.7" width="12.9" height="128.4" fill="#C2C2FB" stroke="#66668a" stroke-width="1.7"/>
<line x1="419.3" y1="303.2" x2="419.3" y2="494.1" stroke="#1c1c1c" stroke-width="2"/>
<line x1="413.3" y1="493.1" x2="578.7" y2="493.1" stroke="#1c1c1c" stroke-width="2"/>
<line x1="413.3" y1="304.2" x2="419.3" y2="304.2" stroke="#1c1c1c" stroke-width="2"/>
<text transform="translate(397.81,309.06) scale(0.7899,1)" font-size="13.944" font-weight="bold" fill="#1c1c1c" stroke="#1c1c1c" stroke-width="0.4">60</text>
<line x1="413.3" y1="367.1" x2="419.3" y2="367.1" stroke="#1c1c1c" stroke-width="2"/>
<text transform="translate(398.04,371.96) scale(0.7750,1)" font-size="13.944" font-weight="bold" fill="#1c1c1c" stroke="#1c1c1c" stroke-width="0.4">40</text>
<line x1="413.3" y1="430.1" x2="419.3" y2="430.1" stroke="#1c1c1c" stroke-width="2"/>
<text transform="translate(397.81,434.96) scale(0.7899,1)" font-size="13.944" font-weight="bold" fill="#1c1c1c" stroke="#1c1c1c" stroke-width="0.4">20</text>
<line x1="413.3" y1="493.1" x2="419.3" y2="493.1" stroke="#1c1c1c" stroke-width="2"/>
<text transform="translate(403.75,497.96) scale(0.8153,1)" font-size="13.944" font-weight="bold" fill="#1c1c1c" stroke="#1c1c1c" stroke-width="0.4">0</text>
<line x1="433.2" y1="493.1" x2="433.2" y2="500.9" stroke="#1c1c1c" stroke-width="1.9"/>
<text transform="translate(427.09,515.77) scale(0.8236,1)" font-size="12.958" font-weight="bold" fill="#1c1c1c" stroke="#1c1c1c" stroke-width="0.4">T0</text>
<line x1="453.7" y1="493.1" x2="453.7" y2="500.9" stroke="#1c1c1c" stroke-width="1.9"/>
<text transform="translate(447.6,515.77) scale(0.7513,1)" font-size="12.958" font-weight="bold" fill="#1c1c1c" stroke="#1c1c1c" stroke-width="0.4" mask="url(#m6)">T1</text>
<line x1="487.8" y1="493.1" x2="487.8" y2="500.9" stroke="#1c1c1c" stroke-width="1.9"/>
<text transform="translate(481.69,515.77) scale(0.8236,1)" font-size="12.958" font-weight="bold" fill="#1c1c1c" stroke="#1c1c1c" stroke-width="0.4">T0</text>
<line x1="508.9" y1="493.1" x2="508.9" y2="500.9" stroke="#1c1c1c" stroke-width="1.9"/>
<text transform="translate(502.8,515.77) scale(0.7513,1)" font-size="12.958" font-weight="bold" fill="#1c1c1c" stroke="#1c1c1c" stroke-width="0.4" mask="url(#m6)">T1</text>
<line x1="543.5" y1="493.1" x2="543.5" y2="500.9" stroke="#1c1c1c" stroke-width="1.9"/>
<text transform="translate(537.39,515.77) scale(0.8236,1)" font-size="12.958" font-weight="bold" fill="#1c1c1c" stroke="#1c1c1c" stroke-width="0.4">T0</text>
<line x1="564.4" y1="493.1" x2="564.4" y2="500.9" stroke="#1c1c1c" stroke-width="1.9"/>
<text transform="translate(558.3,515.77) scale(0.7513,1)" font-size="12.958" font-weight="bold" fill="#1c1c1c" stroke="#1c1c1c" stroke-width="0.4" mask="url(#m6)">T1</text>
<polyline points="428.9,318.8 428.9,310.6 454.1,310.6 454.1,318.8" fill="none" stroke="#6a6a6a" stroke-width="1.8"/>
<polyline points="486.8,318.8 486.8,311 512.7,311 512.7,318.8" fill="none" stroke="#6a6a6a" stroke-width="1.8"/>
<path d="M439.15,294.90L439.15,292.10M439.15,294.90L441.81,294.03M439.15,294.90L440.80,297.17M439.15,294.90L437.50,297.17M439.15,294.90L436.49,294.03" stroke="#3c3c3c" stroke-width="1.25" stroke-linecap="round" fill="none"/>
<path d="M446.45,294.90L446.45,292.10M446.45,294.90L449.11,294.03M446.45,294.90L448.10,297.17M446.45,294.90L444.80,297.17M446.45,294.90L443.79,294.03" stroke="#3c3c3c" stroke-width="1.25" stroke-linecap="round" fill="none"/>
<path d="M497.75,298.10L497.75,295.30M497.75,298.10L500.41,297.23M497.75,298.10L499.40,300.37M497.75,298.10L496.10,300.37M497.75,298.10L495.09,297.23" stroke="#3c3c3c" stroke-width="1.25" stroke-linecap="round" fill="none"/>
<path d="M505.05,298.10L505.05,295.30M505.05,298.10L507.71,297.23M505.05,298.10L506.70,300.37M505.05,298.10L503.40,300.37M505.05,298.10L502.39,297.23" stroke="#3c3c3c" stroke-width="1.25" stroke-linecap="round" fill="none"/>
<text transform="translate(390.6,432.61) rotate(-90) scale(1.1643,1)" font-size="8.841" font-weight="bold" fill="#1c1c1c" stroke="#1c1c1c" stroke-width="0.2">SJ Height(cm)</text>
<rect x="614.9" y="312.2" width="15.7" height="9.1" fill="#FF8000" stroke="#4a2606" stroke-width="1.6"/>
<text transform="translate(641.12,322.5) scale(0.7937,1)" font-size="16.232" font-weight="normal" fill="#1a1a1a" stroke="#1a1a1a" stroke-width="0.6">BFR-VRT</text>
<rect x="614.9" y="338.2" width="15.7" height="8.7" fill="#FBA3A3" stroke="#7a4646" stroke-width="1.6"/>
<text transform="translate(641.11,348.3) scale(0.7818,1)" font-size="16.232" font-weight="normal" fill="#1a1a1a" stroke="#1a1a1a" stroke-width="0.6">VRT</text>
<rect x="614.9" y="364.2" width="15.7" height="8.2" fill="#C2C2FB" stroke="#4a4a70" stroke-width="1.6"/>
<text transform="translate(641.12,373.89) scale(0.8060,1)" font-size="15.775" font-weight="normal" fill="#1a1a1a" stroke="#1a1a1a" stroke-width="0.6">CON</text>
</g>
<g>
<text transform="translate(725.23,310.25) scale(0.6126,1)" font-size="28.986" font-weight="normal" fill="#2a2a2a" stroke="#2a2a2a" stroke-width="0.15">F</text>
<line x1="794" y1="358.1" x2="794" y2="340.3" stroke="#5c5c5c" stroke-width="1.45"/>
<circle cx="794" cy="340.3" r="1.25" fill="#3a3a3a"/>
<rect x="787.95" y="358.7" width="12.1" height="137.7" fill="#FF8000" stroke="#6e3c0c" stroke-width="1.7"/>
<line x1="814.85" y1="328.9" x2="814.85" y2="318.7" stroke="#5c5c5c" stroke-width="1.45"/>
<circle cx="814.85" cy="318.7" r="1.25" fill="#3a3a3a"/>
<rect x="808.65" y="329.5" width="12.4" height="166.9" fill="#FF8000" stroke="#6e3c0c" stroke-width="1.7"/>
<line x1="849.2" y1="357.6" x2="849.2" y2="341.1" stroke="#5c5c5c" stroke-width="1.45"/>
<circle cx="849.2" cy="341.1" r="1.25" fill="#3a3a3a"/>
<rect x="842.85" y="358.2" width="12.7" height="138.2" fill="#FBA3A3" stroke="#9a6262" stroke-width="1.7"/>
<line x1="870.05" y1="341.2" x2="870.05" y2="327.2" stroke="#5c5c5c" stroke-width="1.45"/>
<circle cx="870.05" cy="327.2" r="1.25" fill="#3a3a3a"/>
<rect x="863.75" y="341.8" width="12.6" height="154.6" fill="#FBA3A3" stroke="#9a6262" stroke-width="1.7"/>
<line x1="904.6" y1="353.6" x2="904.6" y2="329.4" stroke="#5c5c5c" stroke-width="1.45"/>
<circle cx="904.6" cy="329.4" r="1.25" fill="#3a3a3a"/>
<rect x="898.15" y="354.2" width="12.9" height="142.2" fill="#C2C2FB" stroke="#66668a" stroke-width="1.7"/>
<line x1="925.35" y1="352.4" x2="925.35" y2="327.5" stroke="#5c5c5c" stroke-width="1.45"/>
<circle cx="925.35" cy="327.5" r="1.25" fill="#3a3a3a"/>
<rect x="918.85" y="353" width="13" height="143.4" fill="#C2C2FB" stroke="#66668a" stroke-width="1.7"/>
<line x1="780.2" y1="305.5" x2="780.2" y2="497.4" stroke="#1c1c1c" stroke-width="2"/>
<line x1="773.9" y1="496.4" x2="939.3" y2="496.4" stroke="#1c1c1c" stroke-width="2"/>
<line x1="773.9" y1="306.5" x2="780.2" y2="306.5" stroke="#1c1c1c" stroke-width="2"/>
<text transform="translate(755.92,311.36) scale(0.7873,1)" font-size="13.944" font-weight="bold" fill="#1c1c1c" stroke="#1c1c1c" stroke-width="0.4">2.5</text>
<line x1="773.9" y1="344.5" x2="780.2" y2="344.5" stroke="#1c1c1c" stroke-width="2"/>
<text transform="translate(755.91,349.36) scale(0.7963,1)" font-size="13.944" font-weight="bold" fill="#1c1c1c" stroke="#1c1c1c" stroke-width="0.4">2.0</text>
<line x1="773.9" y1="382.5" x2="780.2" y2="382.5" stroke="#1c1c1c" stroke-width="2"/>
<text transform="translate(755.57,387.36) scale(0.8054,1)" font-size="13.944" font-weight="bold" fill="#1c1c1c" stroke="#1c1c1c" stroke-width="0.4" mask="url(#m7)">1.5</text>
<line x1="773.9" y1="420.4" x2="780.2" y2="420.4" stroke="#1c1c1c" stroke-width="2"/>
<text transform="translate(755.56,425.26) scale(0.8148,1)" font-size="13.944" font-weight="bold" fill="#1c1c1c" stroke="#1c1c1c" stroke-width="0.4" mask="url(#m8)">1.0</text>
<line x1="773.9" y1="458.4" x2="780.2" y2="458.4" stroke="#1c1c1c" stroke-width="2"/>
<text transform="translate(755.86,463.26) scale(0.7902,1)" font-size="13.944" font-weight="bold" fill="#1c1c1c" stroke="#1c1c1c" stroke-width="0.4">0.5</text>
<line x1="773.9" y1="496.4" x2="780.2" y2="496.4" stroke="#1c1c1c" stroke-width="2"/>
<text transform="translate(755.85,501.26) scale(0.7993,1)" font-size="13.944" font-weight="bold" fill="#1c1c1c" stroke="#1c1c1c" stroke-width="0.4">0.0</text>
<line x1="794.2" y1="496.4" x2="794.2" y2="504.2" stroke="#1c1c1c" stroke-width="1.9"/>
<text transform="translate(788.09,518.77) scale(0.7976,1)" font-size="13.380" font-weight="bold" fill="#1c1c1c" stroke="#1c1c1c" stroke-width="0.4">T0</text>
<line x1="814.5" y1="496.4" x2="814.5" y2="504.2" stroke="#1c1c1c" stroke-width="1.9"/>
<text transform="translate(808.4,518.77) scale(0.7275,1)" font-size="13.380" font-weight="bold" fill="#1c1c1c" stroke="#1c1c1c" stroke-width="0.4" mask="url(#m9)">T1</text>
<line x1="849.2" y1="496.4" x2="849.2" y2="504.2" stroke="#1c1c1c" stroke-width="1.9"/>
<text transform="translate(843.09,518.77) scale(0.7976,1)" font-size="13.380" font-weight="bold" fill="#1c1c1c" stroke="#1c1c1c" stroke-width="0.4">T0</text>
<line x1="870" y1="496.4" x2="870" y2="504.2" stroke="#1c1c1c" stroke-width="1.9"/>
<text transform="translate(863.9,518.77) scale(0.7275,1)" font-size="13.380" font-weight="bold" fill="#1c1c1c" stroke="#1c1c1c" stroke-width="0.4" mask="url(#m9)">T1</text>
<line x1="904.4" y1="496.4" x2="904.4" y2="504.2" stroke="#1c1c1c" stroke-width="1.9"/>
<text transform="translate(898.29,518.77) scale(0.7976,1)" font-size="13.380" font-weight="bold" fill="#1c1c1c" stroke="#1c1c1c" stroke-width="0.4">T0</text>
<line x1="925.2" y1="496.4" x2="925.2" y2="504.2" stroke="#1c1c1c" stroke-width="1.9"/>
<text transform="translate(919.1,518.77) scale(0.7275,1)" font-size="13.380" font-weight="bold" fill="#1c1c1c" stroke="#1c1c1c" stroke-width="0.4" mask="url(#m9)">T1</text>
<polyline points="791,315.3 791,307.4 816.2,307.4 816.2,315.3" fill="none" stroke="#6a6a6a" stroke-width="1.8"/>
<polyline points="847.6,322 847.6,313.8 874,313.8 874,322" fill="none" stroke="#6a6a6a" stroke-width="1.8"/>
<path d="M801.25,293.80L801.25,291.00M801.25,293.80L803.91,292.93M801.25,293.80L802.90,296.07M801.25,293.80L799.60,296.07M801.25,293.80L798.59,292.93" stroke="#3c3c3c" stroke-width="1.25" stroke-linecap="round" fill="none"/>
<path d="M808.55,293.80L808.55,291.00M808.55,293.80L811.21,292.93M808.55,293.80L810.20,296.07M808.55,293.80L806.90,296.07M808.55,293.80L805.89,292.93" stroke="#3c3c3c" stroke-width="1.25" stroke-linecap="round" fill="none"/>
<path d="M856.85,300.30L856.85,297.50M856.85,300.30L859.51,299.43M856.85,300.30L858.50,302.57M856.85,300.30L855.20,302.57M856.85,300.30L854.19,299.43" stroke="#3c3c3c" stroke-width="1.25" stroke-linecap="round" fill="none"/>
<path d="M864.15,300.30L864.15,297.50M864.15,300.30L866.81,299.43M864.15,300.30L865.80,302.57M864.15,300.30L862.50,302.57M864.15,300.30L861.49,299.43" stroke="#3c3c3c" stroke-width="1.25" stroke-linecap="round" fill="none"/>
<text transform="translate(748,417.25) rotate(-90) scale(1.2163,1)" font-size="8.261" font-weight="bold" fill="#1c1c1c" stroke="#1c1c1c" stroke-width="0.2">DJ-RSI</text>
<rect x="975.9" y="315.4" width="15.7" height="8.8" fill="#FF8000" stroke="#4a2606" stroke-width="1.6"/>
<text transform="translate(1001.81,325.25) scale(0.7995,1)" font-size="16.232" font-weight="normal" fill="#1a1a1a" stroke="#1a1a1a" stroke-width="0.6">BFR-VRT</text>
<rect x="975.9" y="341.2" width="15.7" height="8.7" fill="#FBA3A3" stroke="#7a4646" stroke-width="1.6"/>
<text transform="translate(1001.8,351) scale(0.7877,1)" font-size="16.232" font-weight="normal" fill="#1a1a1a" stroke="#1a1a1a" stroke-width="0.6">VRT</text>
<rect x="975.9" y="367" width="15.7" height="8.4" fill="#C2C2FB" stroke="#4a4a70" stroke-width="1.6"/>
<text transform="translate(1001.82,376.49) scale(0.8120,1)" font-size="15.775" font-weight="normal" fill="#1a1a1a" stroke="#1a1a1a" stroke-width="0.6">CON</text>
</g>
<g>
<text transform="translate(2.05,605.86) scale(0.7652,1)" font-size="28.732" font-weight="normal" fill="#2a2a2a" stroke="#2a2a2a" stroke-width="0.15">G</text>
<line x1="75.3" y1="618.5" x2="75.3" y2="606.3" stroke="#5c5c5c" stroke-width="1.45"/>
<circle cx="75.3" cy="606.3" r="1.25" fill="#3a3a3a"/>
<rect x="69.25" y="619.1" width="12.1" height="147.5" fill="#FF8000" stroke="#6e3c0c" stroke-width="1.7"/>
<line x1="95.95" y1="611.7" x2="95.95" y2="602.3" stroke="#5c5c5c" stroke-width="1.45"/>
<circle cx="95.95" cy="602.3" r="1.25" fill="#3a3a3a"/>
<rect x="89.75" y="612.3" width="12.4" height="154.3" fill="#FF8000" stroke="#6e3c0c" stroke-width="1.7"/>
<line x1="130.1" y1="622" x2="130.1" y2="612.2" stroke="#5c5c5c" stroke-width="1.45"/>
<circle cx="130.1" cy="612.2" r="1.25" fill="#3a3a3a"/>
<rect x="123.85" y="622.6" width="12.5" height="144" fill="#FBA3A3" stroke="#9a6262" stroke-width="1.7"/>
<line x1="150.5" y1="611.2" x2="150.5" y2="603.1" stroke="#5c5c5c" stroke-width="1.45"/>
<circle cx="150.5" cy="603.1" r="1.25" fill="#3a3a3a"/>
<rect x="144.25" y="611.8" width="12.5" height="154.8" fill="#FBA3A3" stroke="#9a6262" stroke-width="1.7"/>
<line x1="184.55" y1="622.4" x2="184.55" y2="617.9" stroke="#5c5c5c" stroke-width="1.45"/>
<circle cx="184.55" cy="617.9" r="1.25" fill="#3a3a3a"/>
<rect x="178.15" y="623" width="12.8" height="143.6" fill="#C2C2FB" stroke="#66668a" stroke-width="1.7"/>
<line x1="205.1" y1="621.7" x2="205.1" y2="617" stroke="#5c5c5c" stroke-width="1.45"/>
<circle cx="205.1" cy="617" r="1.25" fill="#3a3a3a"/>
<rect x="198.75" y="622.3" width="12.7" height="144.3" fill="#C2C2FB" stroke="#66668a" stroke-width="1.7"/>
<line x1="61.9" y1="577.8" x2="61.9" y2="767.6" stroke="#1c1c1c" stroke-width="2"/>
<line x1="55.5" y1="766.6" x2="219.3" y2="766.6" stroke="#1c1c1c" stroke-width="2"/>
<line x1="55.5" y1="578.8" x2="61.9" y2="578.8" stroke="#1c1c1c" stroke-width="2"/>
<text transform="translate(34.17,583.66) scale(0.8135,1)" font-size="13.944" font-weight="bold" fill="#1c1c1c" stroke="#1c1c1c" stroke-width="0.4">300</text>
<line x1="55.5" y1="641.4" x2="61.9" y2="641.4" stroke="#1c1c1c" stroke-width="2"/>
<text transform="translate(34.05,646.26) scale(0.8187,1)" font-size="13.944" font-weight="bold" fill="#1c1c1c" stroke="#1c1c1c" stroke-width="0.4">200</text>
<line x1="55.5" y1="704" x2="61.9" y2="704" stroke="#1c1c1c" stroke-width="2"/>
<text transform="translate(33.69,708.86) scale(0.8344,1)" font-size="13.944" font-weight="bold" fill="#1c1c1c" stroke="#1c1c1c" stroke-width="0.4" mask="url(#m1)">100</text>
<line x1="55.5" y1="766.6" x2="61.9" y2="766.6" stroke="#1c1c1c" stroke-width="2"/>
<text transform="translate(46.47,771.46) scale(0.8531,1)" font-size="13.944" font-weight="bold" fill="#1c1c1c" stroke="#1c1c1c" stroke-width="0.4">0</text>
<line x1="75.3" y1="766.6" x2="75.3" y2="774.4" stroke="#1c1c1c" stroke-width="1.9"/>
<text transform="translate(69.19,788.87) scale(0.8327,1)" font-size="12.817" font-weight="bold" fill="#1c1c1c" stroke="#1c1c1c" stroke-width="0.4">T0</text>
<line x1="95.7" y1="766.6" x2="95.7" y2="774.4" stroke="#1c1c1c" stroke-width="1.9"/>
<text transform="translate(89.6,788.87) scale(0.7595,1)" font-size="12.817" font-weight="bold" fill="#1c1c1c" stroke="#1c1c1c" stroke-width="0.4" mask="url(#m4)">T1</text>
<line x1="129.7" y1="766.6" x2="129.7" y2="774.4" stroke="#1c1c1c" stroke-width="1.9"/>
<text transform="translate(123.59,788.87) scale(0.8327,1)" font-size="12.817" font-weight="bold" fill="#1c1c1c" stroke="#1c1c1c" stroke-width="0.4">T0</text>
<line x1="150" y1="766.6" x2="150" y2="774.4" stroke="#1c1c1c" stroke-width="1.9"/>
<text transform="translate(143.9,788.87) scale(0.7595,1)" font-size="12.817" font-weight="bold" fill="#1c1c1c" stroke="#1c1c1c" stroke-width="0.4" mask="url(#m4)">T1</text>
<line x1="184.1" y1="766.6" x2="184.1" y2="774.4" stroke="#1c1c1c" stroke-width="1.9"/>
<text transform="translate(177.99,788.87) scale(0.8327,1)" font-size="12.817" font-weight="bold" fill="#1c1c1c" stroke="#1c1c1c" stroke-width="0.4">T0</text>
<line x1="204.9" y1="766.6" x2="204.9" y2="774.4" stroke="#1c1c1c" stroke-width="1.9"/>
<text transform="translate(198.8,788.87) scale(0.7595,1)" font-size="12.817" font-weight="bold" fill="#1c1c1c" stroke="#1c1c1c" stroke-width="0.4" mask="url(#m4)">T1</text>
<polyline points="71,593.8 71,585.9 96.2,585.9 96.2,593.8" fill="none" stroke="#6a6a6a" stroke-width="1.8"/>
<polyline points="128.7,593.8 128.7,585.9 154.3,585.9 154.3,593.8" fill="none" stroke="#6a6a6a" stroke-width="1.8"/>
<path d="M87.50,568.30L87.50,565.50M87.50,568.30L90.16,567.43M87.50,568.30L89.15,570.57M87.50,568.30L85.85,570.57M87.50,568.30L84.84,567.43" stroke="#3c3c3c" stroke-width="1.25" stroke-linecap="round" fill="none"/>
<path d="M138.85,571.80L138.85,569.00M138.85,571.80L141.51,570.93M138.85,571.80L140.50,574.07M138.85,571.80L137.20,574.07M138.85,571.80L136.19,570.93" stroke="#3c3c3c" stroke-width="1.25" stroke-linecap="round" fill="none"/>
<path d="M146.15,571.80L146.15,569.00M146.15,571.80L148.81,570.93M146.15,571.80L147.80,574.07M146.15,571.80L144.50,574.07M146.15,571.80L143.49,570.93" stroke="#3c3c3c" stroke-width="1.25" stroke-linecap="round" fill="none"/>
<text transform="translate(27,731.41) rotate(-90) scale(1.1333,1)" font-size="9.130" font-weight="bold" fill="#1c1c1c" stroke="#1c1c1c" stroke-width="0.2">Standing long jump(cm)</text>
<rect x="254.9" y="587.4" width="15.7" height="9" fill="#FF8000" stroke="#4a2606" stroke-width="1.6"/>
<text transform="translate(280.84,597.2) scale(0.7805,1)" font-size="16.232" font-weight="normal" fill="#1a1a1a" stroke="#1a1a1a" stroke-width="0.6">BFR-VRT</text>
<rect x="254.9" y="613" width="15.7" height="8.6" fill="#FBA3A3" stroke="#7a4646" stroke-width="1.6"/>
<text transform="translate(280.82,622.6) scale(0.7687,1)" font-size="16.232" font-weight="normal" fill="#1a1a1a" stroke="#1a1a1a" stroke-width="0.6">VRT</text>
<rect x="254.9" y="638.4" width="15.7" height="8.6" fill="#C2C2FB" stroke="#4a4a70" stroke-width="1.6"/>
<text transform="translate(280.84,647.84) scale(0.7924,1)" font-size="15.775" font-weight="normal" fill="#1a1a1a" stroke="#1a1a1a" stroke-width="0.6">CON</text>
</g>
<g>
<text transform="translate(356.76,606.35) scale(0.8052,1)" font-size="29.275" font-weight="normal" fill="#2a2a2a" stroke="#2a2a2a" stroke-width="0.15">H</text>
<line x1="427.6" y1="617.7" x2="427.6" y2="610.2" stroke="#5c5c5c" stroke-width="1.45"/>
<circle cx="427.6" cy="610.2" r="1.25" fill="#3a3a3a"/>
<rect x="421.35" y="618.3" width="12.5" height="147.6" fill="#FF8000" stroke="#6e3c0c" stroke-width="1.7"/>
<line x1="449.05" y1="629.2" x2="449.05" y2="626.2" stroke="#5c5c5c" stroke-width="1.45"/>
<circle cx="449.05" cy="626.2" r="1.25" fill="#3a3a3a"/>
<rect x="442.75" y="629.8" width="12.6" height="136.1" fill="#FF8000" stroke="#6e3c0c" stroke-width="1.7"/>
<line x1="484.3" y1="613.7" x2="484.3" y2="599.8" stroke="#5c5c5c" stroke-width="1.45"/>
<circle cx="484.3" cy="599.8" r="1.25" fill="#3a3a3a"/>
<rect x="477.75" y="614.3" width="13.1" height="151.6" fill="#FBA3A3" stroke="#9a6262" stroke-width="1.7"/>
<line x1="505.6" y1="624.9" x2="505.6" y2="617.6" stroke="#5c5c5c" stroke-width="1.45"/>
<circle cx="505.6" cy="617.6" r="1.25" fill="#3a3a3a"/>
<rect x="499.25" y="625.5" width="12.7" height="140.4" fill="#FBA3A3" stroke="#9a6262" stroke-width="1.7"/>
<line x1="541.3" y1="618.2" x2="541.3" y2="612.3" stroke="#5c5c5c" stroke-width="1.45"/>
<circle cx="541.3" cy="612.3" r="1.25" fill="#3a3a3a"/>
<rect x="534.85" y="618.8" width="12.9" height="147.1" fill="#C2C2FB" stroke="#66668a" stroke-width="1.7"/>
<line x1="562.4" y1="616.9" x2="562.4" y2="610.2" stroke="#5c5c5c" stroke-width="1.45"/>
<circle cx="562.4" cy="610.2" r="1.25" fill="#3a3a3a"/>
<rect x="555.95" y="617.5" width="12.9" height="148.4" fill="#C2C2FB" stroke="#66668a" stroke-width="1.7"/>
<line x1="413.4" y1="570.9" x2="413.4" y2="766.9" stroke="#1c1c1c" stroke-width="2"/>
<line x1="407.2" y1="765.9" x2="577.1" y2="765.9" stroke="#1c1c1c" stroke-width="2"/>
<line x1="407.2" y1="571.9" x2="413.4" y2="571.9" stroke="#1c1c1c" stroke-width="2"/>
<text transform="translate(397.91,576.76) scale(0.7985,1)" font-size="13.944" font-weight="bold" fill="#1c1c1c" stroke="#1c1c1c" stroke-width="0.4">6</text>
<line x1="407.2" y1="636.6" x2="413.4" y2="636.6" stroke="#1c1c1c" stroke-width="2"/>
<text transform="translate(398.15,641.46) scale(0.7239,1)" font-size="13.944" font-weight="bold" fill="#1c1c1c" stroke="#1c1c1c" stroke-width="0.4">4</text>
<line x1="407.2" y1="701.2" x2="413.4" y2="701.2" stroke="#1c1c1c" stroke-width="2"/>
<text transform="translate(397.91,706.06) scale(0.8068,1)" font-size="13.944" font-weight="bold" fill="#1c1c1c" stroke="#1c1c1c" stroke-width="0.4">2</text>
<line x1="407.2" y1="765.9" x2="413.4" y2="765.9" stroke="#1c1c1c" stroke-width="2"/>
<text transform="translate(397.85,770.76) scale(0.8153,1)" font-size="13.944" font-weight="bold" fill="#1c1c1c" stroke="#1c1c1c" stroke-width="0.4">0</text>
<line x1="427.7" y1="765.9" x2="427.7" y2="773.7" stroke="#1c1c1c" stroke-width="1.9"/>
<text transform="translate(421.59,789.26) scale(0.7654,1)" font-size="13.944" font-weight="bold" fill="#1c1c1c" stroke="#1c1c1c" stroke-width="0.4">T0</text>
<line x1="448.7" y1="765.9" x2="448.7" y2="773.7" stroke="#1c1c1c" stroke-width="1.9"/>
<text transform="translate(442.6,789.26) scale(0.6981,1)" font-size="13.944" font-weight="bold" fill="#1c1c1c" stroke="#1c1c1c" stroke-width="0.4" mask="url(#m2)">T1</text>
<line x1="484.4" y1="765.9" x2="484.4" y2="773.7" stroke="#1c1c1c" stroke-width="1.9"/>
<text transform="translate(478.29,789.26) scale(0.7654,1)" font-size="13.944" font-weight="bold" fill="#1c1c1c" stroke="#1c1c1c" stroke-width="0.4">T0</text>
<line x1="505.3" y1="765.9" x2="505.3" y2="773.7" stroke="#1c1c1c" stroke-width="1.9"/>
<text transform="translate(499.2,789.26) scale(0.6981,1)" font-size="13.944" font-weight="bold" fill="#1c1c1c" stroke="#1c1c1c" stroke-width="0.4" mask="url(#m2)">T1</text>
<line x1="541.1" y1="765.9" x2="541.1" y2="773.7" stroke="#1c1c1c" stroke-width="1.9"/>
<text transform="translate(534.99,789.26) scale(0.7654,1)" font-size="13.944" font-weight="bold" fill="#1c1c1c" stroke="#1c1c1c" stroke-width="0.4">T0</text>
<line x1="562.1" y1="765.9" x2="562.1" y2="773.7" stroke="#1c1c1c" stroke-width="1.9"/>
<text transform="translate(556,789.26) scale(0.6981,1)" font-size="13.944" font-weight="bold" fill="#1c1c1c" stroke="#1c1c1c" stroke-width="0.4" mask="url(#m2)">T1</text>
<polyline points="422.8,606.8 422.8,599.1 448.6,599.1 448.6,606.8" fill="none" stroke="#6a6a6a" stroke-width="1.8"/>
<polyline points="479.4,598.2 479.4,589.8 506.2,589.8 506.2,598.2" fill="none" stroke="#6a6a6a" stroke-width="1.8"/>
<path d="M437.75,582.60L437.75,579.80M437.75,582.60L440.41,581.73M437.75,582.60L439.40,584.87M437.75,582.60L436.10,584.87M437.75,582.60L435.09,581.73" stroke="#3c3c3c" stroke-width="1.25" stroke-linecap="round" fill="none"/>
<path d="M445.05,582.60L445.05,579.80M445.05,582.60L447.71,581.73M445.05,582.60L446.70,584.87M445.05,582.60L443.40,584.87M445.05,582.60L442.39,581.73" stroke="#3c3c3c" stroke-width="1.25" stroke-linecap="round" fill="none"/>
<path d="M490.55,576.10L490.55,573.30M490.55,576.10L493.21,575.23M490.55,576.10L492.20,578.37M490.55,576.10L488.90,578.37M490.55,576.10L487.89,575.23" stroke="#3c3c3c" stroke-width="1.25" stroke-linecap="round" fill="none"/>
<path d="M497.85,576.10L497.85,573.30M497.85,576.10L500.51,575.23M497.85,576.10L499.50,578.37M497.85,576.10L496.20,578.37M497.85,576.10L495.19,575.23" stroke="#3c3c3c" stroke-width="1.25" stroke-linecap="round" fill="none"/>
<text transform="translate(390.8,700.96) rotate(-90) scale(1.1949,1)" font-size="8.551" font-weight="bold" fill="#1c1c1c" stroke="#1c1c1c" stroke-width="0.2">30m sprint(s)</text>
<rect x="614.4" y="580.7" width="16.2" height="8.9" fill="#FF8000" stroke="#4a2606" stroke-width="1.6"/>
<text transform="translate(641.1,590.65) scale(0.8112,1)" font-size="16.232" font-weight="normal" fill="#1a1a1a" stroke="#1a1a1a" stroke-width="0.6">BFR-VRT</text>
<rect x="614.4" y="606.9" width="16.2" height="9.3" fill="#FBA3A3" stroke="#7a4646" stroke-width="1.6"/>
<text transform="translate(641.09,617.05) scale(0.7994,1)" font-size="16.232" font-weight="normal" fill="#1a1a1a" stroke="#1a1a1a" stroke-width="0.6">VRT</text>
<rect x="614.4" y="633.2" width="16.2" height="9" fill="#C2C2FB" stroke="#4a4a70" stroke-width="1.6"/>
<text transform="translate(641.1,643.04) scale(0.8240,1)" font-size="15.775" font-weight="normal" fill="#1a1a1a" stroke="#1a1a1a" stroke-width="0.6">CON</text>
</g>
</svg></body></html>
